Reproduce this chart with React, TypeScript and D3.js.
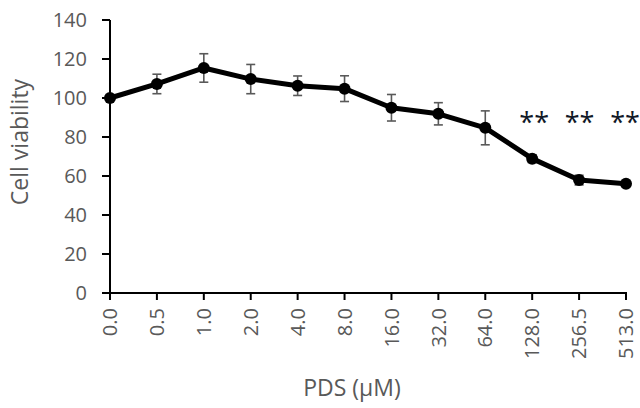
import React from "react";
import * as d3 from "d3";

const categories = ["0.0", "0.5", "1.0", "2.0", "4.0", "8.0", "16.0", "32.0", "64.0", "128.0", "256.5", "513.0"];
const viability = [100, 107.2, 115.4, 109.7, 106.3, 104.8, 95.0, 91.9, 84.7, 68.9, 57.9, 56.0];
const errors = [0, 5, 7.3, 7.5, 5, 6.6, 6.8, 5.7, 8.7, 2, 2.5, 1];
const significance = ["", "", "", "", "", "", "", "", "", "**", "**", "**"];
const yTicks = [0, 20, 40, 60, 80, 100, 120, 140];

const W = 640, H = 408;
const font = "'Open Sans', 'DejaVu Sans', sans-serif";
const gray = "#595959";

export default function App() {
  const x = d3.scalePoint<string>().domain(categories).range([110, 626]);
  const y = d3.scaleLinear().domain([0, 140]).range([293, 20]);
  const pts = categories.map((c, i) => ({ c, v: viability[i], e: errors[i], s: significance[i] }));
  const line = d3.line<typeof pts[0]>().x(d => x(d.c)!).y(d => y(d.v));

  return (
    <svg width={W} height={H} style={{ position: "absolute", left: 0, top: 0, background: "#fff" }}>
      {/* y axis */}
      <line x1={110} x2={110} y1={y(140)} y2={y(0)} stroke="#000" strokeWidth={2} />
      {yTicks.map(t => (
        <g key={t}>
          <line x1={102} x2={110} y1={y(t)} y2={y(t)} stroke="#000" strokeWidth={2} />
          <text x={87} y={y(t)} dy="0.36em" textAnchor="end" fontFamily={font} fontSize={20} fill={gray}>{t}</text>
        </g>
      ))}
      {/* x axis */}
      <line x1={109} x2={x(categories[categories.length - 1])! + 1} y1={y(0)} y2={y(0)} stroke="#000" strokeWidth={2} />
      {categories.map(c => (
        <g key={c}>
          <line x1={x(c)} x2={x(c)} y1={y(0)} y2={y(0) + 7} stroke="#000" strokeWidth={2} />
          <text transform={`translate(${x(c)},${y(0) + 15}) rotate(-90)`} dy="0.36em" textAnchor="end" fontFamily={font} fontSize={20} fill={gray}>{c}</text>
        </g>
      ))}
      {/* error bars */}
      {pts.filter(p => p.e > 0).map(p => (
        <g key={"e" + p.c} stroke={gray} strokeWidth={1.6}>
          <line x1={x(p.c)} x2={x(p.c)} y1={y(p.v + p.e)} y2={y(p.v - p.e)} />
          <line x1={x(p.c)! - 4.5} x2={x(p.c)! + 4.5} y1={y(p.v + p.e)} y2={y(p.v + p.e)} />
          <line x1={x(p.c)! - 4.5} x2={x(p.c)! + 4.5} y1={y(p.v - p.e)} y2={y(p.v - p.e)} />
        </g>
      ))}
      <path d={line(pts)!} fill="none" stroke="#000" strokeWidth={5} strokeLinejoin="round" />
      {pts.map(p => (
        <circle key={"c" + p.c} cx={x(p.c)} cy={y(p.v)} r={6} fill="#000" />
      ))}
      {pts.filter(p => p.s).map((p, i) => (
        <text key={"s" + p.c} x={x(p.c)! + 2 - i * 1.5} y={132} textAnchor="middle" fontFamily={font} fontSize={27} fill="#111827">{p.s}</text>
      ))}
      <text transform={`translate(20,142) rotate(-90)`} dy="0.36em" textAnchor="middle" fontFamily={font} fontSize={23} fill={gray}>Cell viability</text>
      <text x={352} y={388} dy="0.36em" textAnchor="middle" fontFamily={font} fontSize={23} fill={gray}>PDS (μM)</text>
    </svg>
  );
}
